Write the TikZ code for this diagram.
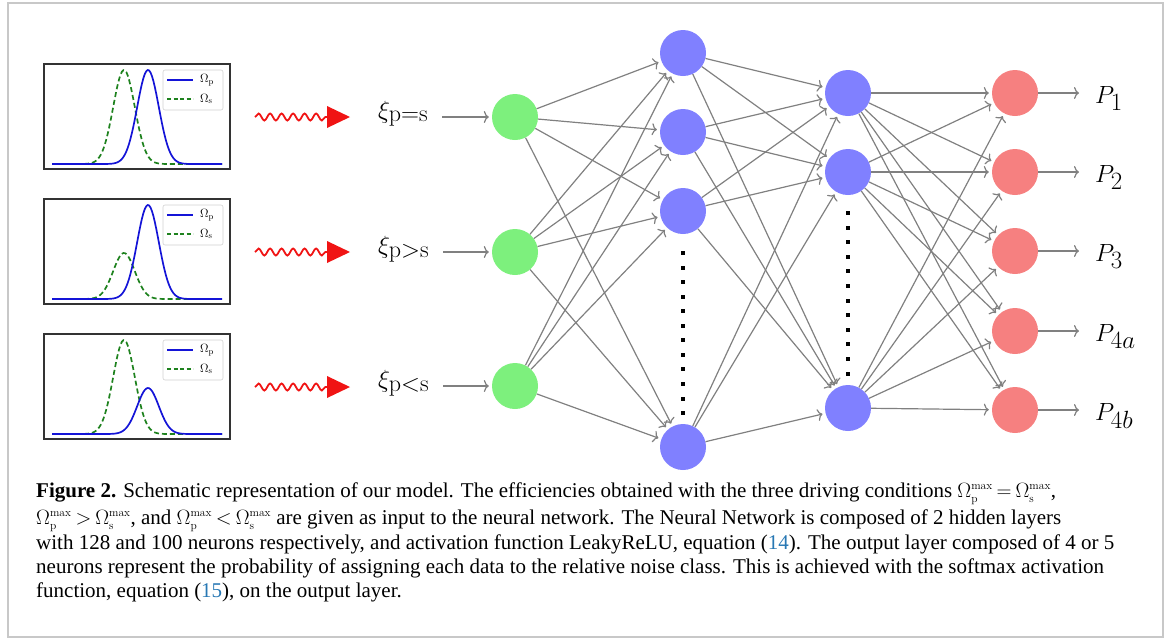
\documentclass[tikz,border=0pt]{standalone}
\usepackage{fontspec}
\newfontfamily\capfont{Liberation Serif}
\usetikzlibrary{arrows.meta,decorations.pathmorphing}
\DeclareMathSizes{30}{30}{24}{17}
\DeclareMathSizes{21}{21}{11.5}{9}
\DeclareMathSizes{12}{12}{8.5}{6}
\definecolor{ingreen}{RGB}{125,240,125}
\definecolor{hidblue}{RGB}{128,128,255}
\definecolor{outred}{RGB}{246,128,128}
\definecolor{edgegray}{RGB}{128,128,128}
\definecolor{wavered}{RGB}{240,20,20}
\definecolor{pblue}{RGB}{20,20,215}
\definecolor{sgreen}{RGB}{30,130,30}
\definecolor{framegray}{RGB}{200,200,200}
\definecolor{linkblue}{RGB}{40,120,180}
% Omega with sub/superscript, set without height so caption lines keep their spacing
\newcommand{\omx}[1]{\smash{$\Omega_{\mathrm{#1}}^{\mathrm{max}}$}}
\newcommand{\rel}[1]{\kern4pt$#1$\kern4pt}
\tikzset{
  neuron/.style={circle, minimum size=46pt, inner sep=0pt},
  innode/.style={neuron, fill=ingreen},
  hidnode/.style={neuron, fill=hidblue},
  outnode/.style={neuron, fill=outred},
  edge/.style={draw=edgegray, line width=1.2pt, -{To[length=5pt,width=12pt]}, shorten >=3pt},
  lab/.style={font=\fontsize{30}{36}\selectfont, inner sep=0pt},
  capline/.style={anchor=base west, inner sep=0pt, font=\capfont\fontsize{21}{25}\selectfont},
  wave/.style={draw=wavered, line width=1.8pt, decorate,
    decoration={snake, amplitude=3.5pt, segment length=11.5pt}},
  plotbox/.style={draw=black!80, line width=1.2pt},
  pcurve/.style={draw=pblue, line width=1.7pt},
  scurve/.style={draw=sgreen, line width=1.7pt, dash pattern=on 5pt off 3pt},
  legbox/.style={draw=black!18, fill=white, rounded corners=2pt, line width=0.6pt},
  dotmark/.style={fill=black},
}
\begin{document}
\begin{tikzpicture}[x=1pt,y=-1pt]
\useasboundingbox (0,0) rectangle (1167,638);
\draw[framegray, line width=1.5pt] (8,3) rectangle (1163,637);

% --- pump/Stokes pulse sketches: {box top, pump peak height, Stokes peak height}
\foreach \T/\hp/\hs [count=\n] in {64/94/94, 199/94/46, 334/46/94}{
  \draw[plotbox] (44,\T) rectangle (230,\T+105);
  \draw[scurve] plot[domain=52:222, samples=120]
     (\x, {\T+100-\hs*exp(-((\x-124)/10.8)^2/2)});
  \draw[pcurve] plot[domain=52:222, samples=120]
     (\x, {\T+100-\hp*exp(-((\x-148)/10.8)^2/2)});
  \draw[legbox] (163,\T+6) rectangle (223,\T+46);
  \draw[pcurve] (167,\T+16) -- (193,\T+16);
  \draw[scurve, dash pattern=on 4pt off 2.5pt] (167,\T+35) -- (193,\T+35);
  \node[anchor=west, inner sep=0pt, font=\fontsize{12}{12}\selectfont]
     at (200,\T+16) {$\Omega_{\mathrm{p}}$};
  \node[anchor=west, inner sep=0pt, font=\fontsize{12}{12}\selectfont]
     at (200,\T+35) {$\Omega_{\mathrm{s}}$};
}

% --- wavy red arrows
\foreach \y [count=\n] in {117,252,387}{
  \coordinate (ws\n) at (255,\y);
  \coordinate (we\n) at (330,\y);
  \draw[wave] (ws\n) -- (we\n);
  \fill[wavered] (327,\y-11) -- (350,\y) -- (327,\y+11) -- cycle;
}

% --- neurons
\node[innode] (i1) at (515,117) {};
\node[innode] (i2) at (515,252) {};
\node[innode] (i3) at (515,386) {};

\node[hidnode] (h1) at (683,53) {};
\node[hidnode] (h2) at (683,132) {};
\node[hidnode] (h3) at (683,211) {};
\node[hidnode] (h4) at (683,447) {};

\node[hidnode] (g1) at (848,93) {};
\node[hidnode] (g2) at (848,172) {};
\node[hidnode] (g3) at (848,408) {};

\node[outnode] (o1) at (1015,93) {};
\node[outnode] (o2) at (1015,172) {};
\node[outnode] (o3) at (1015,251) {};
\node[outnode] (o4) at (1015,331) {};
\node[outnode] (o5) at (1015,410) {};

% --- omitted neurons
\foreach \k in {0,...,11}{
  \fill[dotmark] (681,251+\k*14.55) rectangle +(4,4);
  \fill[dotmark] (846,211+\k*14.6) rectangle +(4,4);
}

% --- input labels
\node[lab, anchor=base west] (x1) at (378,118) {$\xi_{\mathrm{p=s}}$};
\node[lab, anchor=base west] (x2) at (378,253) {$\xi_{\mathrm{p>s}}$};
\node[lab, anchor=base west] (x3) at (378,387) {$\xi_{\mathrm{p<s}}$};
\foreach \n in {1,2,3}
  \draw[edge, shorten <=14pt] (x\n.east |- i\n) -- (i\n);

% --- output labels
\node[lab, anchor=base west] (p1) at (1095,103) {$P_1$};
\node[lab, anchor=base west] (p2) at (1095,182) {$P_2$};
\node[lab, anchor=base west] (p3) at (1095,261) {$P_3$};
\node[lab, anchor=base west] (p4) at (1095,341) {$P_{4a}$};
\node[lab, anchor=base west] (p5) at (1095,420) {$P_{4b}$};
\foreach \n in {1,...,5}
  \draw[edge, shorten >=16pt] (o\n) -- (o\n -| p\n.west);

% --- fully connected layers
\foreach \a in {i1,i2,i3}
  \foreach \b in {h1,h2,h3,h4}
    \draw[edge] (\a) -- (\b);
\foreach \a in {h1,h2,h3,h4}
  \foreach \b in {g1,g2,g3}
    \draw[edge] (\a) -- (\b);
\foreach \a in {g1,g2,g3}
  \foreach \b in {o1,o2,o3,o4,o5}
    \draw[edge] (\a) -- (\b);

% --- caption
\node[capline] (c1) at (36,497) {\textbf{Figure 2.} Schematic representation of our model. The efficiencies obtained with the three driving conditions \omx{p}\rel{=}\omx{s},};
\node[capline] (c2) at (36,524) {\omx{p}\rel{>}\omx{s}, and \omx{p}\rel{<}\omx{s} are given as input to the neural network. The Neural Network is composed of 2 hidden layers};
\node[capline] (c3) at (36,549) {with 128 and 100 neurons respectively, and activation function LeakyReLU, equation ({\color{linkblue}14}). The output layer composed of 4 or 5};
\node[capline] (c4) at (36,573) {neurons represent the probability of assigning each data to the relative noise class. This is achieved with the softmax activation};
\node[capline] (c5) at (36,597) {function, equation ({\color{linkblue}15}), on the output layer.};
\end{tikzpicture}
\end{document}
